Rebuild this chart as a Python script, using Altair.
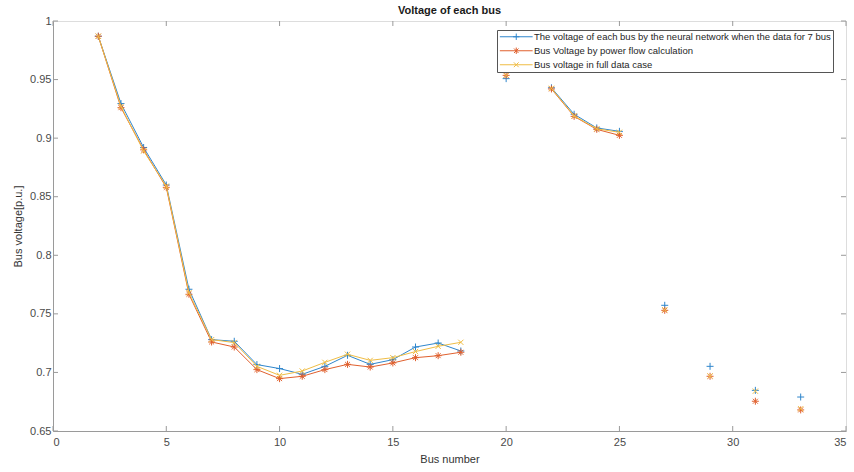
import altair as alt
import pandas as pd

buses = [2, 3, 4, 5, 6, 7, 8, 9, 10, 11, 12, 13, 14, 15, 16, 17, 18,
         20, 22, 23, 24, 25, 27, 29, 31, 33]
nn_voltage = [0.987, 0.9295, 0.892, 0.860, 0.771, 0.728, 0.7266, 0.7067, 0.7033,
              0.6984, 0.7052, 0.7146, 0.7069, 0.7109, 0.7217, 0.7251, 0.7183,
              0.9508, 0.943, 0.9204, 0.9087, 0.9058, 0.7573, 0.7052, 0.6847, 0.679]
pf_voltage = [0.987, 0.926, 0.890, 0.858, 0.7667, 0.726, 0.7217, 0.7024, 0.6947,
              0.6967, 0.7024, 0.7069, 0.7046, 0.7081, 0.7126, 0.7143, 0.7172,
              0.9536, 0.942, 0.9186, 0.9075, 0.9024, 0.753, 0.6967, 0.6754, 0.668]
full_voltage = [0.987, 0.927, 0.889, 0.859, 0.768, 0.728, 0.7255, 0.7052, 0.6975,
                0.7012, 0.7086, 0.7155, 0.7103, 0.7126, 0.7178, 0.7223, 0.7257,
                0.9536, 0.9425, 0.919, 0.908, 0.905, 0.7535, 0.6970, 0.684, 0.669]
series_names = [
    "The voltage of each bus by the neural network when the data for 7 bus",
    "Bus Voltage by power flow calculation",
    "Bus voltage in full data case",
]
colors = ["#2f86cc", "#e0602e", "#efbd45"]
x_ticks = [0, 5, 10, 15, 20, 25, 30, 35]
y_ticks = [0.65, 0.7, 0.75, 0.8, 0.85, 0.9, 0.95, 1.0]

# marker shapes (plus, asterisk, x)
marker_paths = [
    "M-1,0L1,0M0,-1L0,1",
    "M-1,0L1,0M0,-1L0,1M-0.7,-0.7L0.7,0.7M-0.7,0.7L0.7,-0.7",
    "M-0.75,-0.75L0.75,0.75M-0.75,0.75L0.75,-0.75",
]
# legend samples: short line with the marker in the middle (unit = 4 px)
legend_paths = [
    "M-4.1,0L4.1,0M-0.8,0L0.8,0M0,-0.8L0,0.8",
    "M-4.1,0L4.1,0M0,-0.8L0,0.8M-0.56,-0.56L0.56,0.56M-0.56,0.56L0.56,-0.56",
    "M-4.1,0L4.1,0M-0.6,-0.6L0.6,0.6M-0.6,0.6L0.6,-0.6",
]

# consecutive runs of bus numbers are joined by lines
segments = []
s = 0
for i, b in enumerate(buses):
    if i > 0 and b - buses[i - 1] > 1:
        s += 1
    segments.append(s)

rows = []
for name, vals in zip(series_names, [nn_voltage, pf_voltage, full_voltage]):
    for b, v, sg in zip(buses, vals, segments):
        rows.append({"bus": b, "voltage": v, "series": name, "segment": sg})
df = pd.DataFrame(rows)
xt_df = pd.DataFrame({"t": x_ticks})
yt_df = pd.DataFrame({"t": y_ticks})

W, H = 793, 410
FONT = "Liberation Sans"
AX_GRAY = "#9a9a9a"
LAB = "#4a4a4a"
TICK = 5

xscale = alt.Scale(domain=[0, 35], nice=False, zero=False)
yscale = alt.Scale(domain=[0.65, 1.0], nice=False, zero=False)

main_x = alt.Axis(values=x_ticks, format="~g", title="Bus number", grid=False,
                  ticks=False, tickSize=0, labelPadding=5, titlePadding=6,
                  domainColor=AX_GRAY, labelColor=LAB, titleColor="#333333",
                  labelFontSize=11, titleFontSize=11, titleFontWeight="normal",
                  labelFont=FONT, titleFont=FONT)
main_y = alt.Axis(values=y_ticks, format="~g", title="Bus voltage[p.u.]", grid=False,
                  ticks=False, tickSize=0, labelPadding=2, titlePadding=6,
                  domainColor=AX_GRAY, labelColor=LAB, titleColor="#333333",
                  labelFontSize=11, titleFontSize=11, titleFontWeight="normal",
                  labelFont=FONT, titleFont=FONT)

X = alt.X("bus:Q", scale=xscale, axis=main_x)
Y = alt.Y("voltage:Q", scale=yscale, axis=main_y)

layers = []
for i, name in enumerate(series_names):
    sub = alt.Chart(df).transform_filter(alt.datum.series == name)
    line = sub.mark_line(strokeWidth=1, color=colors[i]).encode(
        x=X, y=Y, detail="segment:N")
    pts = sub.mark_point(shape=marker_paths[i], size=49, filled=False,
                         strokeWidth=1, opacity=1, color=colors[i]).encode(x=X, y=Y)
    layers += [line, pts]

# inward-pointing tick marks on all four sides (MATLAB box style)
tick_style = dict(color=AX_GRAY, strokeWidth=1)
TX = alt.X("t:Q", scale=xscale, axis=main_x)
TY = alt.Y("t:Q", scale=yscale, axis=main_y)
bottom_ticks = alt.Chart(xt_df).mark_rule(**tick_style).encode(
    x=TX, y=alt.value(H), y2=alt.value(H - TICK))
top_ticks = alt.Chart(xt_df).mark_rule(**tick_style).encode(
    x=TX, y=alt.value(0), y2=alt.value(TICK))
left_ticks = alt.Chart(yt_df).mark_rule(**tick_style).encode(
    y=TY, x=alt.value(0), x2=alt.value(TICK))
right_ticks = alt.Chart(yt_df).mark_rule(**tick_style).encode(
    y=TY, x=alt.value(W), x2=alt.value(W - TICK))
layers += [bottom_ticks, top_ticks, left_ticks, right_ticks]

leg = dict(title=None, orient="none", legendX=444, legendY=9,
           fillColor="white", strokeColor="#555555",
           padding=2, rowPadding=3, labelLimit=600,
           symbolSize=64, symbolStrokeWidth=1, symbolOffset=12.5,
           labelOffset=13, labelFontSize=9.5, labelFont=FONT,
           labelColor="#262626", symbolFillColor="transparent")
legend_layer = alt.Chart(df).mark_point(opacity=0, filled=False, strokeWidth=1).encode(
    x=X, y=Y,
    color=alt.Color("series:N", scale=alt.Scale(domain=series_names, range=colors),
                    sort=series_names, legend=alt.Legend(**leg)),
    shape=alt.Shape("series:N", scale=alt.Scale(domain=series_names, range=legend_paths),
                    sort=series_names, legend=alt.Legend(**leg)),
)
layers.append(legend_layer)

chart = alt.layer(*layers).properties(
    width=W, height=H,
    autosize=alt.AutoSizeParams(type="none"),
    padding={"left": 53, "top": 21, "right": 8, "bottom": 42},
    title=alt.TitleParams("Voltage of each bus", fontSize=11, fontWeight="bold",
                          font=FONT, color="#1a1a1a", offset=4, dy=5, anchor="middle"),
).configure_view(stroke=AX_GRAY, strokeWidth=1).configure(background="white")

chart.save("out.html", embed_options={"renderer": "svg", "actions": False})
